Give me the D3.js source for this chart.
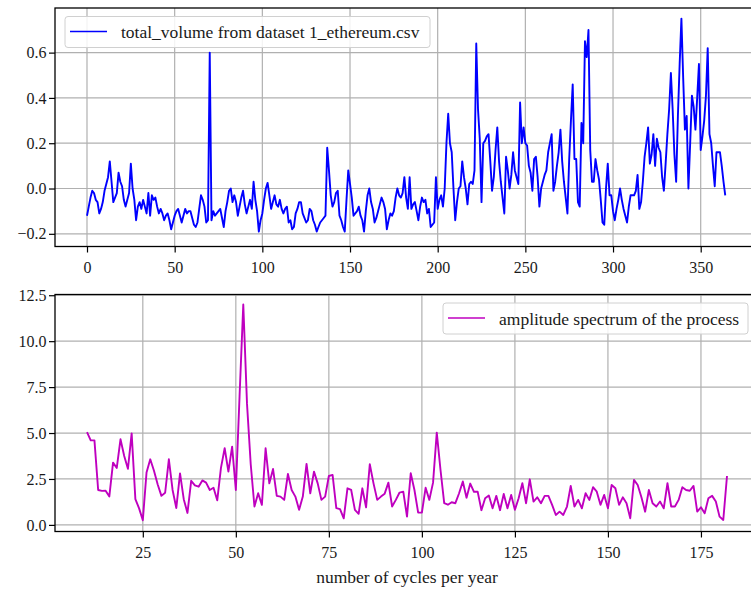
<!DOCTYPE html>
<html>
<head>
<meta charset="utf-8">
<script src="https://cdn.jsdelivr.net/npm/d3@7/dist/d3.min.js"></script>
<style>
  html, body { margin: 0; padding: 0; background: #fff; }
  svg { display: block; }
</style>
</head>
<body>
<svg id="chart" width="751" height="592"></svg>
<script>
// Daily normalised total volume (index = day of year)
const totalVolume = [
  -0.12, -0.08, -0.04, -0.01, -0.02, -0.05, -0.06, -0.11, -0.09, -0.06,
  -0.01, 0.02, 0.05, 0.12, 0.03, -0.06, -0.04, -0.02, 0.07, 0.03,
  0.01, -0.05, -0.08, -0.05, -0.02, 0.11, 0.0, -0.05, -0.14, -0.08,
  -0.06, -0.09, -0.05, -0.08, -0.11, -0.02, -0.12, -0.03, -0.05, -0.04,
  -0.08, -0.11, -0.09, -0.11, -0.14, -0.12, -0.11, -0.14, -0.18, -0.15,
  -0.12, -0.10, -0.09, -0.12, -0.15, -0.12, -0.09, -0.11, -0.10, -0.10,
  -0.13, -0.16, -0.17, -0.15, -0.09, -0.03, -0.05, -0.08, -0.15, -0.14,
  0.60, -0.14, -0.10, -0.12, -0.11, -0.10, -0.09, -0.13, -0.17, -0.10,
  -0.06, -0.01, 0.0, -0.06, -0.03, -0.06, -0.12, -0.08, -0.04, -0.01,
  -0.07, -0.11, -0.08, -0.05, -0.09, 0.03, -0.05, -0.10, -0.19, -0.14,
  -0.11, -0.05, 0.0, 0.025, -0.03, -0.09, -0.06, -0.03, -0.07, -0.08,
  -0.05, -0.09, -0.11, -0.09, -0.08, -0.15, -0.14, -0.18, -0.17, -0.11,
  -0.09, -0.06, -0.06, -0.11, -0.13, -0.15, -0.14, -0.09, -0.10, -0.14,
  -0.16, -0.19, -0.17, -0.15, -0.14, -0.13, -0.12, 0.18, 0.08, -0.03,
  -0.08, -0.06, -0.02, -0.01, -0.12, -0.14, -0.17, -0.19, -0.05, 0.08,
  0.02, -0.04, -0.12, -0.11, -0.10, -0.08, -0.12, -0.14, -0.19, -0.10,
  -0.03, 0.0, -0.06, -0.09, -0.15, -0.13, -0.10, -0.07, -0.04, -0.06,
  -0.09, -0.18, -0.14, -0.11, -0.12, -0.10, -0.04, 0.0, -0.03, -0.04,
  -0.02, 0.05, -0.04, -0.09, 0.05, -0.09, -0.07, -0.06, -0.10, -0.14,
  -0.08, -0.04, -0.06, -0.05, -0.11, -0.09, -0.17, -0.16, -0.15, 0.05,
  -0.09, -0.05, -0.03, -0.08, 0.0, 0.20, 0.33, 0.20, 0.16, 0.0,
  -0.14, -0.06, 0.0, 0.01, 0.12, 0.05, 0.0, -0.07, 0.02, 0.03,
  0.02, 0.08, 0.64, 0.35, 0.22, -0.06, 0.20, 0.21, 0.23, 0.24,
  0.12, -0.01, 0.05, 0.17, 0.27, 0.12, 0.03, -0.04, -0.11, 0.14,
  0.08, 0.0, 0.06, 0.16, 0.08, 0.05, 0.02, 0.38, 0.20, 0.27,
  0.20, 0.19, 0.10, 0.07, -0.01, 0.13, 0.14, 0.05, -0.08, 0.0,
  0.03, 0.06, 0.08, 0.16, 0.20, 0.24, -0.01, 0.03, 0.10, 0.16,
  0.26, 0.12, 0.03, -0.04, -0.11, 0.13, 0.30, 0.46, 0.13, 0.13,
  -0.06, -0.08, 0.29, 0.20, 0.65, 0.58, 0.70, 0.17, 0.03, 0.03,
  0.13, 0.08, 0.04, -0.05, -0.15, -0.16, 0.0, 0.11, -0.03, -0.03,
  -0.10, -0.14, -0.09, -0.05, 0.0, -0.05, -0.09, -0.12, -0.15, -0.08,
  -0.03, -0.03, -0.03, -0.01, 0.06, -0.09, -0.06, 0.03, 0.14, 0.20,
  0.27, 0.11, 0.15, 0.24, 0.10, 0.22, 0.18, 0.16, 0.05, -0.01,
  0.11, 0.24, 0.35, 0.51, 0.35, 0.15, 0.03, 0.32, 0.55, 0.75,
  0.49, 0.26, 0.32, 0.0, 0.20, 0.41, 0.36, 0.26, 0.40, 0.55,
  0.17, 0.23, 0.30, 0.41, 0.62, 0.24, 0.20, 0.10, 0.01, 0.16,
  0.16, 0.16, 0.10, 0.03, -0.03
];

// Amplitude spectrum, one value per whole number of cycles per year
const firstCycle = 10;
const amplitude = [
  5.05, 4.6, 4.6, 1.9, 1.85, 1.86, 1.55, 3.39, 3.1, 4.66,
  3.75, 3.05, 4.98, 1.4, 0.9, 0.25, 2.85, 3.57, 2.95, 2.2,
  1.58, 1.75, 3.57, 1.9, 0.92, 2.8, 1.4, 0.65, 2.4, 2.15,
  2.08, 2.42, 2.3, 1.9, 2.02, 1.34, 3.1, 4.17, 2.9, 4.26,
  1.9, 7.0, 12.0, 6.6, 3.3, 1.0, 1.72, 1.09, 4.17, 2.26,
  3.04, 1.58, 1.54, 1.36, 2.77, 1.9, 1.54, 0.82, 1.54, 3.32,
  1.72, 2.9, 2.26, 1.36, 1.54, 2.66, 2.72, 0.91, 0.86, 0.36,
  1.99, 1.9, 0.82, 0.6, 1.99, 0.95, 3.3, 2.26, 1.36, 1.54,
  1.7, 2.3, 1.0, 1.36, 1.76, 1.81, 0.45, 2.81, 1.9, 0.67,
  0.67, 2.02, 1.36, 2.3, 5.02, 3.0, 1.18, 1.1, 1.23, 1.18,
  1.72, 2.36, 1.48, 2.25, 1.8, 1.8, 0.8, 1.45, 1.6, 0.9,
  1.58, 0.8, 1.68, 0.9, 1.63, 0.82, 1.45, 2.27, 1.18, 2.48,
  1.27, 1.5, 1.18, 1.58, 1.58, 1.09, 0.54, 0.72, 0.54, 1.0,
  2.12, 1.0, 1.36, 0.9, 1.72, 1.36, 2.05, 1.81, 1.09, 1.63,
  0.9, 2.17, 1.99, 1.09, 1.5, 1.18, 0.36, 2.45, 2.17, 1.5,
  0.72, 1.9, 1.18, 1.0, 1.27, 0.9, 2.27, 1.0, 1.0, 1.36,
  2.05, 1.9, 1.86, 2.12, 0.72, 0.96, 0.63, 1.45, 1.58, 1.27,
  0.45, 0.27, 2.66
];

const topXTicks = [0, 50, 100, 150, 200, 250, 300, 350];
const topYTicks = [-0.2, 0.0, 0.2, 0.4, 0.6];
const bottomXTicks = [25, 50, 75, 100, 125, 150, 175];
const bottomYTicks = [0, 2.5, 5, 7.5, 10, 12.5];

const seriesLabel = "total_volume from dataset 1_ethereum.csv";
const spectrumLabel = "amplitude spectrum of the process";
const xAxisLabel = "number of cycles per year";

const SERIF = `"Liberation Serif"`;
const TICK_FONT = 16;
const LABEL_FONT = 17.5;

const svg = d3.select("#chart");

function styleText(sel, size) {
  return sel.style("font-family", SERIF).style("font-size", size + "px").style("fill", "#1a1a1a");
}

const panels = [
  {
    top: 8, bottom: 246.5, left: 55, right: 759,
    xDomain: [-18.25, 383.25], yDomain: [-0.256, 0.797],
    xTicks: topXTicks, yTicks: topYTicks,
    yFormat: d => d3.format(".1f")(d).replace("-", "\u2212"),
    data: totalVolume.map((v, i) => [i, v]),
    color: "#0000ff", label: seriesLabel,
    legendX: 65, legendW: 365
  },
  {
    top: 294.5, bottom: 531.5, left: 55, right: 759,
    xDomain: [1.4, 190.6], yDomain: [-0.36, 12.54],
    xTicks: bottomXTicks, yTicks: bottomYTicks,
    yFormat: d3.format(".1f"),
    data: amplitude.map((v, i) => [firstCycle + i, v]),
    color: "#bf00bf", label: spectrumLabel,
    legendX: 443, legendW: 305
  }
];

panels.forEach(p => {
  const x = d3.scaleLinear().domain(p.xDomain).range([p.left, p.right]);
  const y = d3.scaleLinear().domain(p.yDomain).range([p.bottom, p.top]);
  const g = svg.append("g");

  // grid
  g.append("g").selectAll("line").data(p.xTicks).join("line")
    .attr("x1", d => x(d)).attr("x2", d => x(d))
    .attr("y1", p.top).attr("y2", p.bottom)
    .attr("stroke", "#b0b0b0").attr("stroke-width", 1.2);
  g.append("g").selectAll("line").data(p.yTicks).join("line")
    .attr("x1", p.left).attr("x2", p.right)
    .attr("y1", d => y(d)).attr("y2", d => y(d))
    .attr("stroke", "#b0b0b0").attr("stroke-width", 1.2);

  // series
  const line = d3.line().x(d => x(d[0])).y(d => y(d[1]));
  g.append("path").datum(p.data)
    .attr("d", line).attr("fill", "none")
    .attr("stroke", p.color).attr("stroke-width", 1.9)
    .attr("stroke-linejoin", "round");

  // axes
  const xAxis = d3.axisBottom(x).tickValues(p.xTicks).tickSize(6).tickPadding(9.5)
    .tickFormat(d3.format("d"));
  const gx = g.append("g").attr("transform", `translate(0,${p.bottom})`).call(xAxis);
  const yAxis = d3.axisLeft(y).tickValues(p.yTicks).tickSize(6).tickPadding(2.5)
    .tickFormat(p.yFormat);
  const gy = g.append("g").attr("transform", `translate(${p.left},0)`).call(yAxis);
  [gx, gy].forEach(a => {
    a.attr("font-family", null).attr("font-size", null);
    a.select(".domain").remove();
    a.selectAll(".tick line").attr("stroke", "#000").attr("stroke-width", 1.2);
    styleText(a.selectAll(".tick text"), TICK_FONT);
  });

  // frame
  g.append("rect")
    .attr("x", p.left).attr("y", p.top)
    .attr("width", p.right - p.left).attr("height", p.bottom - p.top)
    .attr("fill", "none").attr("stroke", "#000").attr("stroke-width", 1.3);

  // legend
  const lg = g.append("g").attr("transform", `translate(${p.legendX},${p.top + 8.5})`);
  lg.append("rect").attr("width", p.legendW).attr("height", 31)
    .attr("rx", 3).attr("fill", "#fff").attr("fill-opacity", 0.85)
    .attr("stroke", "#d0d0d0").attr("stroke-width", 1);
  lg.append("line").attr("x1", 5).attr("x2", 42).attr("y1", 15).attr("y2", 15)
    .attr("stroke", p.color).attr("stroke-width", 1.6);
  styleText(lg.append("text").attr("x", 56).attr("y", 21.5), LABEL_FONT).text(p.label);
});

styleText(svg.append("text").attr("x", 407).attr("y", 583)
  .attr("text-anchor", "middle"), LABEL_FONT).text(xAxisLabel);
</script>
</body>
</html>
